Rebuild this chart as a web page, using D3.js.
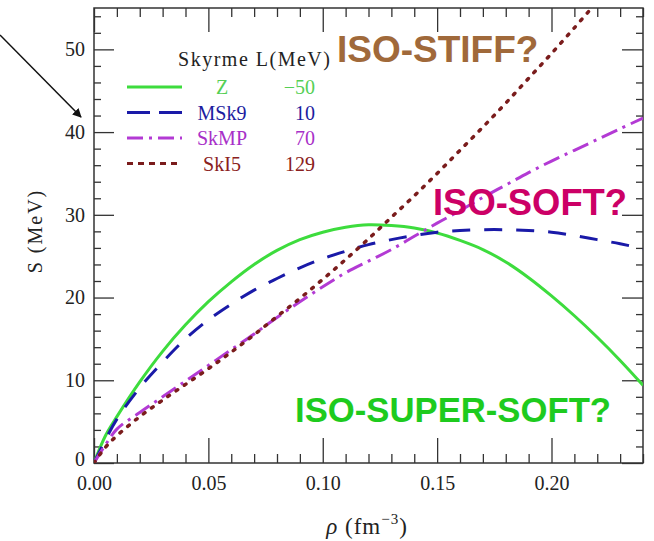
<!DOCTYPE html>
<html>
<head>
<meta charset="utf-8">
<script src="https://cdn.jsdelivr.net/npm/d3@7"></script>
<style>
  body { margin: 0; background: #fff; }
  .tick text { font-family: 'Liberation Serif', serif; font-size: 20px; fill: #222; }
  .tick line { stroke: #333; stroke-width: 1.3; }
  .serif { font-family: 'Liberation Serif', serif; }
  .tag { font-family: 'Liberation Sans', Arial, sans-serif; font-weight: bold; }
</style>
</head>
<body>
<div id="root"></div>
<script>
// Data
const rho = [0, 0.005, 0.01, 0.02, 0.03, 0.04, 0.05, 0.06, 0.07, 0.08, 0.09, 0.10, 0.11, 0.12,
  0.13, 0.14, 0.15, 0.16, 0.17, 0.18, 0.19, 0.20, 0.21, 0.22, 0.23, 0.24];
const sZ = [0, 3.3, 5.6, 9.8, 13.5, 16.7, 19.5, 21.9, 24.0, 25.7, 27.0, 27.9, 28.5, 28.8,
  28.7, 28.4, 27.8, 26.9, 25.8, 24.3, 22.4, 20.2, 17.8, 15.2, 12.4, 9.4];
const sMSk9 = [0, 2.8, 5.3, 9.1, 12.2, 15.0, 17.3, 19.2, 20.9, 22.3, 23.6, 24.7, 25.6, 26.4,
  27.0, 27.5, 27.9, 28.1, 28.2, 28.2, 28.1, 27.9, 27.5, 27.0, 26.5, 25.9];
const sSkMP = [0, 2.2, 4.1, 6.1, 8.0, 9.9, 11.8, 13.7, 15.6, 17.6, 19.5, 21.3, 23.0, 24.4,
  25.8, 27.4, 29.0, 30.5, 32.1, 33.6, 35.1, 36.5, 37.8, 39.1, 40.4, 41.7];
const sSkI5 = [0, 1.9, 3.3, 5.6, 7.6, 9.5, 11.4, 13.4, 15.5, 17.7, 19.9, 22.2, 24.6, 27.1,
  29.7, 32.3, 35.0, 37.8, 40.6, 43.5, 46.5, 49.5, 52.6, 55.8];

const names = ['Z', 'MSk9', 'SkMP', 'SkI5'];
const slopeL = ['\u221250', '10', '70', '129'];
const seriesValues = [sZ, sMSk9, sSkMP, sSkI5];

const xMajor = [0, 0.05, 0.10, 0.15, 0.20];
const yMajor = [0, 10, 20, 30, 40, 50];

const tags = ['ISO-STIFF?', 'ISO-SOFT?', 'ISO-SUPER-SOFT?'];

// Layout
const width = 654;
const height = 541;
const plotLeft = 94;
const plotRight = 643;
const plotTop = 8;
const plotBottom = 463;

const colors = ['#3ddc3d', '#1a1aa8', '#b33ad4', '#7a1c1c'];
const textColors = ['#55cf55', '#1c1ca0', '#a830c8', '#8a2020'];
const dashes = [null, '18,14', '17,6,3,6', '2,8'];
const legendDashes = [null, '23,9', '16,6,3,6', '6,5'];

const svg = d3.select('#root')
  .append('svg')
  .attr('width', width)
  .attr('height', height);

const x = d3.scaleLinear().domain([0, 0.24]).range([plotLeft, plotRight]);
const y = d3.scaleLinear().domain([0, 55]).range([plotBottom, plotTop]);

const xMinor = d3.range(1, 25).map(d => d / 100).filter(d => Math.round(d * 100) % 5 !== 0);
const yMinor = d3.range(2, 56, 2).filter(d => d % 10 !== 0);

// Axes, ticks pointing inward on all four sides
function drawAxis(axis, transform) {
  const g = svg.append('g').attr('transform', transform).call(axis);
  g.select('.domain').remove();
  return g;
}

drawAxis(d3.axisBottom(x).tickValues(xMajor).tickSize(-25).tickPadding(13).tickFormat(d3.format('.2f')),
  `translate(0,${plotBottom})`);
drawAxis(d3.axisBottom(x).tickValues(xMinor).tickSize(-9).tickFormat(''), `translate(0,${plotBottom})`);
drawAxis(d3.axisTop(x).tickValues(xMajor).tickSize(-24).tickFormat(''), `translate(0,${plotTop})`);
drawAxis(d3.axisTop(x).tickValues(xMinor).tickSize(-9).tickFormat(''), `translate(0,${plotTop})`);

const yAxis = drawAxis(d3.axisLeft(y).tickValues(yMajor).tickSize(-20).tickPadding(9).tickFormat(d3.format('d')),
  `translate(${plotLeft},0)`);
// the zero label sits a touch higher so it clears 0.00
yAxis.selectAll('.tick text').filter(d => d === 0).attr('dy', '0.1em');
drawAxis(d3.axisLeft(y).tickValues(yMinor).tickSize(-7).tickFormat(''), `translate(${plotLeft},0)`);
drawAxis(d3.axisRight(y).tickValues(yMajor).tickSize(-21).tickFormat(''), `translate(${plotRight},0)`);
drawAxis(d3.axisRight(y).tickValues(yMinor).tickSize(-7).tickFormat(''), `translate(${plotRight},0)`);

svg.append('rect')
  .attr('x', plotLeft)
  .attr('y', plotTop)
  .attr('width', plotRight - plotLeft)
  .attr('height', plotBottom - plotTop)
  .attr('fill', 'none')
  .attr('stroke', '#333')
  .attr('stroke-width', 1.5);

// Curves
svg.append('clipPath').attr('id', 'plot')
  .append('rect')
  .attr('x', plotLeft).attr('y', plotTop)
  .attr('width', plotRight - plotLeft).attr('height', plotBottom - plotTop);

const line = d3.line()
  .x(d => x(d[0]))
  .y(d => y(d[1]))
  .curve(d3.curveCatmullRom);

svg.append('g')
  .attr('clip-path', 'url(#plot)')
  .selectAll('path')
  .data(seriesValues)
  .enter()
    .append('path')
    .attr('d', vals => line(vals.map((v, i) => [rho[i], v])))
    .attr('fill', 'none')
    .attr('stroke', (d, i) => colors[i])
    .attr('stroke-width', (d, i) => i === 3 ? 3.5 : 3)
    .attr('stroke-linecap', (d, i) => i === 3 ? 'round' : 'butt')
    .attr('stroke-dasharray', (d, i) => dashes[i]);

// Legend
const legend = svg.append('g');

legend.append('text')
  .attr('class', 'serif')
  .attr('x', 178)
  .attr('y', 66)
  .attr('textLength', 152)
  .attr('font-size', 20)
  .attr('fill', '#222')
  .text('Skyrme L(MeV)');

const rowY = d3.scaleLinear().domain([0, 3]).range([87, 163.5]);

const rows = legend.selectAll('.row')
  .data(names)
  .enter()
    .append('g')
    .attr('class', 'row');

rows.append('line')
  .attr('x1', 127)
  .attr('x2', 182)
  .attr('y1', (d, i) => rowY(i))
  .attr('y2', (d, i) => rowY(i))
  .attr('stroke', (d, i) => colors[i])
  .attr('stroke-width', 3)
  .attr('stroke-dasharray', (d, i) => legendDashes[i]);

rows.append('text')
  .attr('class', 'serif')
  .attr('x', 222)
  .attr('y', (d, i) => rowY(i) + 7)
  .attr('text-anchor', 'middle')
  .attr('font-size', 20)
  .attr('fill', (d, i) => textColors[i])
  .text(d => d);

rows.append('text')
  .attr('class', 'serif')
  .attr('x', 315)
  .attr('y', (d, i) => rowY(i) + 7)
  .attr('text-anchor', 'end')
  .attr('font-size', 20)
  .attr('fill', (d, i) => textColors[i])
  .text((d, i) => slopeL[i]);

// Axis titles
svg.append('text')
  .attr('class', 'serif')
  .attr('transform', 'translate(42,231) rotate(-90)')
  .attr('text-anchor', 'middle')
  .attr('font-size', 20)
  .attr('letter-spacing', 2)
  .attr('fill', '#222')
  .text('S (MeV)');

const xTitle = svg.append('text')
  .attr('class', 'serif')
  .attr('x', 367)
  .attr('y', 534)
  .attr('text-anchor', 'middle')
  .attr('font-size', 23)
  .attr('letter-spacing', 1)
  .attr('fill', '#222');
xTitle.append('tspan').attr('font-style', 'italic').text('\u03C1');
xTitle.append('tspan').text('  (fm');
xTitle.append('tspan').attr('dy', -10).attr('font-size', 15).text('\u22123');
xTitle.append('tspan').attr('dy', 10).text(')');

// Annotations
const tagPos = [[337, 62, 37, '#a0693a'], [433, 215, 36.4, '#cc0066'], [295, 422, 34.7, '#1ecb1e']];
svg.selectAll('.tag')
  .data(tags)
  .enter()
    .append('text')
    .attr('class', 'tag')
    .attr('x', (d, i) => tagPos[i][0])
    .attr('y', (d, i) => tagPos[i][1])
    .attr('font-size', (d, i) => tagPos[i][2])
    .attr('fill', (d, i) => tagPos[i][3])
    .text(d => d);

// Arrow pointing at the axis
svg.append('defs').append('marker')
  .attr('id', 'head')
  .attr('viewBox', '0 0 10 10')
  .attr('refX', 9).attr('refY', 5)
  .attr('markerWidth', 9).attr('markerHeight', 9)
  .attr('markerUnits', 'userSpaceOnUse')
  .attr('orient', 'auto')
  .append('path')
  .attr('d', 'M0,0 L10,5 L0,10 z')
  .attr('fill', '#111');

svg.append('line')
  .attr('x1', 0).attr('y1', 35)
  .attr('x2', 81).attr('y2', 117)
  .attr('stroke', '#111')
  .attr('stroke-width', 1.5)
  .attr('marker-end', 'url(#head)');
</script>
</body>
</html>
